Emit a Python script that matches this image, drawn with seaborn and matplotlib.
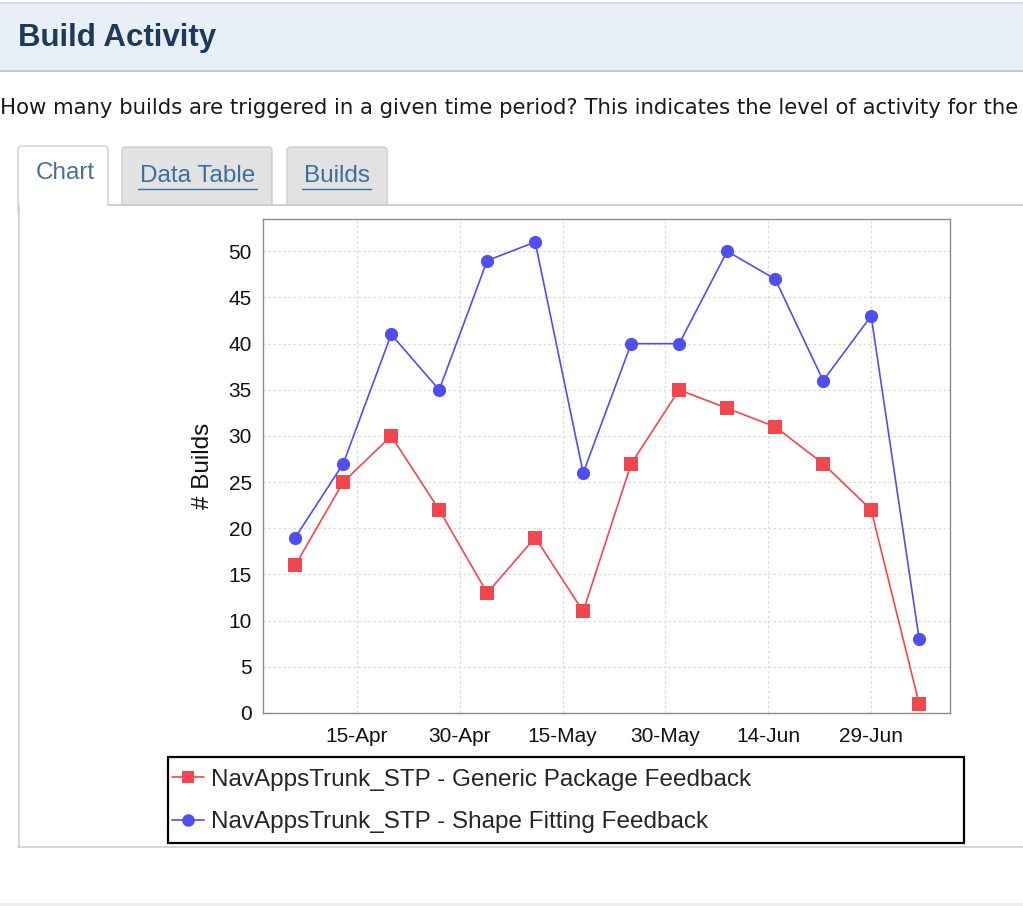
import matplotlib
matplotlib.use("Agg")
import matplotlib.pyplot as plt
import seaborn as sns
import numpy as np
import pandas as pd
from matplotlib.patches import Rectangle, FancyBboxPatch
from matplotlib.lines import Line2D

# datos
fechas = ['2009-04-06', '2009-04-13', '2009-04-20', '2009-04-27', '2009-05-04',
          '2009-05-11', '2009-05-18', '2009-05-25', '2009-06-01', '2009-06-08',
          '2009-06-15', '2009-06-22', '2009-06-29', '2009-07-06']
generic_package = [16, 25, 30, 22, 13, 19, 11, 27, 35, 33, 31, 27, 22, 1]
shape_fitting = [19, 27, 41, 35, 49, 51, 26, 40, 40, 50, 47, 36, 43, 8]
series = ['NavAppsTrunk_STP - Generic Package Feedback',
          'NavAppsTrunk_STP - Shape Fitting Feedback']
tick_fechas = ['2009-04-15', '2009-04-30', '2009-05-15', '2009-05-30', '2009-06-14', '2009-06-29']
tick_labels = ['15-Apr', '30-Apr', '15-May', '30-May', '14-Jun', '29-Jun']
y_ticks = [0, 5, 10, 15, 20, 25, 30, 35, 40, 45, 50]

ROJO = '#f2474d'
AZUL = '#4f4ff0'

sns.set_style('white')
plt.rcParams['font.family'] = ['Liberation Sans', 'DejaVu Sans']

W, H = 1023, 906
fig = plt.figure(figsize=(W / 100, H / 100), dpi=100)
fig.patch.set_facecolor('white')

# fondo de la pagina en pixeles
bg = fig.add_axes([0, 0, 1, 1], zorder=0)
bg.set_xlim(0, W)
bg.set_ylim(H, 0)
bg.axis('off')

bg.add_patch(Rectangle((0, 2), W, 69, facecolor='#e9eff7', edgecolor='none'))
bg.plot([0, W], [2.5, 2.5], color='#d3d8de', lw=1.2)
bg.plot([0, W], [71, 71], color='#c4cad1', lw=1.5)
bg.text(18, 38, 'Build Activity', fontsize=22.5, fontweight='bold', color='#1d3a5c', va='center', ha='left')
bg.text(0, 108, 'How many builds are triggered in a given time period? This indicates the level of activity for the',
        fontsize=15.3, color='#1a1a1a', va='center', ha='left', family=['DejaVu Sans'])

# pestañas
bg.add_patch(FancyBboxPatch((18, 146), 90, 70, boxstyle='round,pad=0,rounding_size=4',
                            facecolor='white', edgecolor='#cfcfcf', lw=1))
bg.add_patch(FancyBboxPatch((122, 147), 150, 70, boxstyle='round,pad=0,rounding_size=4',
                            facecolor='#e2e2e2', edgecolor='#cccccc', lw=1))
bg.add_patch(FancyBboxPatch((287, 147), 100, 70, boxstyle='round,pad=0,rounding_size=4',
                            facecolor='#e2e2e2', edgecolor='#cccccc', lw=1))
bg.add_patch(Rectangle((18, 205), W - 18, 642, facecolor='white', edgecolor='none'))
bg.plot([108, W], [205, 205], color='#c8c8c8', lw=1.2)
bg.plot([18.5, 18.5], [205, 847], color='#cfcfcf', lw=1.2)
bg.plot([18, W], [847, 847], color='#cfcfcf', lw=1.2)
bg.text(65, 173, 'Chart', fontsize=17.5, color='#4a6f96', ha='center', va='center')
bg.text(197.5, 176, 'Data Table', fontsize=17.5, color='#3d6ea3', ha='center', va='center')
bg.plot([138, 257], [188.5, 188.5], color='#3d6ea3', lw=1)
bg.text(336.5, 176, 'Builds', fontsize=17.5, color='#3d6ea3', ha='center', va='center')
bg.plot([302, 371], [188.5, 188.5], color='#3d6ea3', lw=1)
bg.add_patch(Rectangle((0, 903), W, 3, facecolor='#eef0ee', edgecolor='none'))

bg.text(203, 466, '# Builds', fontsize=17.5, rotation=90, ha='center', va='center', color='#111111')

# grafico
df = pd.DataFrame({
    'fecha': pd.to_datetime(fechas * 2),
    'builds': generic_package + shape_fitting,
    'serie': [series[0]] * len(fechas) + [series[1]] * len(fechas),
})

ax = fig.add_axes([263 / W, 1 - 713 / H, 687 / W, 494 / H], zorder=2)
sns.lineplot(data=df, x='fecha', y='builds', hue='serie', style='serie',
             palette=[ROJO, AZUL], markers=['s', 'o'], dashes=False,
             markersize=9.5, markeredgewidth=0, linewidth=1.2, legend=False, ax=ax)

x0 = pd.Timestamp(fechas[0]) - pd.Timedelta(days=4.7)
x1 = pd.Timestamp(fechas[-1]) + pd.Timedelta(days=4.5)
ax.set_xlim(x0, x1)
ax.set_ylim(0, 53.5)
ax.set_xticks(pd.to_datetime(tick_fechas))
ax.set_xticklabels(tick_labels)
ax.set_yticks(y_ticks)
ax.set_xlabel('')
ax.set_ylabel('')
ax.tick_params(axis='both', direction='out', length=4, width=1, color='#888888',
               labelsize=15, labelcolor='#111111', pad=4)
ax.tick_params(axis='x', pad=6)
ax.grid(True, color='#d9d9d9', linestyle=(0, (2, 2)), linewidth=0.9)
for s in ax.spines.values():
    s.set_color('#8c8c8c')
    s.set_linewidth(1)
    s.set_visible(True)

# leyenda
bg.add_patch(Rectangle((168, 757), 796, 86, facecolor='white', edgecolor='black', lw=1.6, zorder=3))
handles = [Line2D([0], [0], color=ROJO, marker='s', markersize=9, markeredgewidth=0, lw=1.2),
           Line2D([0], [0], color=AZUL, marker='o', markersize=9, markeredgewidth=0, lw=1.2)]
leg = fig.legend(handles, series, loc='center left', bbox_to_anchor=(172 / W, 1 - 801 / H),
                 frameon=False, fontsize=17.5, handlelength=1.3, handletextpad=0.3,
                 labelspacing=0.85, borderpad=0, borderaxespad=0)
leg.set_zorder(5)

fig.savefig('out.png', dpi=100)
